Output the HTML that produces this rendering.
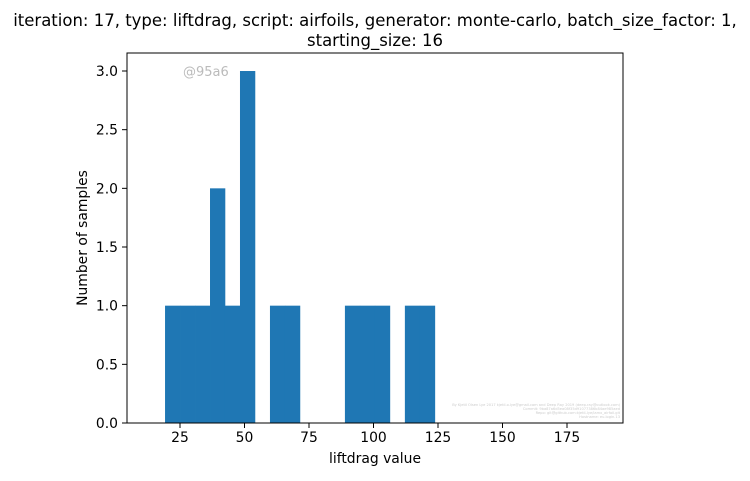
<!DOCTYPE html>
<html><head><meta charset="utf-8"><style>
body{margin:0;background:#fff;}
svg text{font-family:"DejaVu Sans","Liberation Sans",sans-serif;}
</style></head><body>
<svg id="chart" width="750" height="476" xmlns="http://www.w3.org/2000/svg">
<rect width="750" height="476" fill="#fff"/>
<text x="375" y="26" text-anchor="middle" font-size="16.5" fill="#000">iteration: 17, type: liftdrag, script: airfoils, generator: monte-carlo, batch_size_factor: 1,</text>
<text x="375" y="46" text-anchor="middle" font-size="16.5" fill="#000">starting_size: 16</text>
<g id="bars"></g>
<g id="xticks"></g>
<g id="yticks"></g>
<rect x="127" y="53" width="496" height="370" fill="none" stroke="#000" stroke-width="1"/>
<text x="183" y="76" font-size="13" fill="#bbb">@95a6</text>
<g font-size="3.6" fill="#ccc" text-anchor="end">
<text x="620" y="406">By Kjetil Olsen Lye 2017 kjetil.o.lye@gmail.com and Deep Ray 2019 (deep.ray@outlook.com)</text>
<text x="620" y="410">Commit: 9ba87a6d5ea08f35d91077386b84ae985aed</text>
<text x="620" y="414">Repo: git@github.com:kjetil-lye/iamx_airfoil.git</text>
<text x="620" y="418">Hostname: eu.login.13</text>
</g>
<text x="375" y="463" text-anchor="middle" font-size="13.9" fill="#000">liftdrag value</text>
<text x="87" y="238" text-anchor="middle" font-size="13.9" fill="#000" transform="rotate(-90 87 238)">Number of samples</text>
</svg>
<script>
const binStart = 19.2;
const binWidth = 5.81;
const counts = [1,1,1,2,1,3,0,1,1,0,0,0,1,1,1,0,1,1];
const xTicks = [25,50,75,100,125,150,175];
const yTicks = [0,0.5,1.0,1.5,2.0,2.5,3.0];
const yTickLabels = ["0.0","0.5","1.0","1.5","2.0","2.5","3.0"];
const NS="http://www.w3.org/2000/svg";
function xs(v){return 115.5+v*2.58;}
function ys(v){return 423-v*117.33;}
const bars=document.getElementById('bars');
counts.forEach((c,i)=>{
  if(!c) return;
  const x0=xs(binStart+i*binWidth), x1=xs(binStart+(i+1)*binWidth);
  const r=document.createElementNS(NS,'rect');
  r.setAttribute('x',x0);r.setAttribute('width',x1-x0+0.3);
  r.setAttribute('y',ys(c));r.setAttribute('height',ys(0)-ys(c));
  r.setAttribute('fill','#1f77b4');
  
  
  bars.appendChild(r);
});
const xg=document.getElementById('xticks');
xTicks.forEach(t=>{
  const x=xs(t);
  const l=document.createElementNS(NS,'line');
  l.setAttribute('x1',x);l.setAttribute('x2',x);l.setAttribute('y1',423);l.setAttribute('y2',428);l.setAttribute('stroke','#000');
  
  
  xg.appendChild(l);
  const tx=document.createElementNS(NS,'text');
  tx.setAttribute('x',x);tx.setAttribute('y',442);tx.setAttribute('text-anchor','middle');tx.setAttribute('font-size','13.9');
  tx.textContent=t;
  
  
  xg.appendChild(tx);
});
const yg=document.getElementById('yticks');
yTicks.forEach((t,i)=>{
  const y=ys(t);
  const l=document.createElementNS(NS,'line');
  l.setAttribute('x1',122);l.setAttribute('x2',127);l.setAttribute('y1',y);l.setAttribute('y2',y);l.setAttribute('stroke','#000');
  
  
  yg.appendChild(l);
  const tx=document.createElementNS(NS,'text');
  tx.setAttribute('x',118);tx.setAttribute('y',y+5);tx.setAttribute('text-anchor','end');tx.setAttribute('font-size','13.9');
  tx.textContent=yTickLabels[i];
  
  
  yg.appendChild(tx);
});
</script>
</body></html>
